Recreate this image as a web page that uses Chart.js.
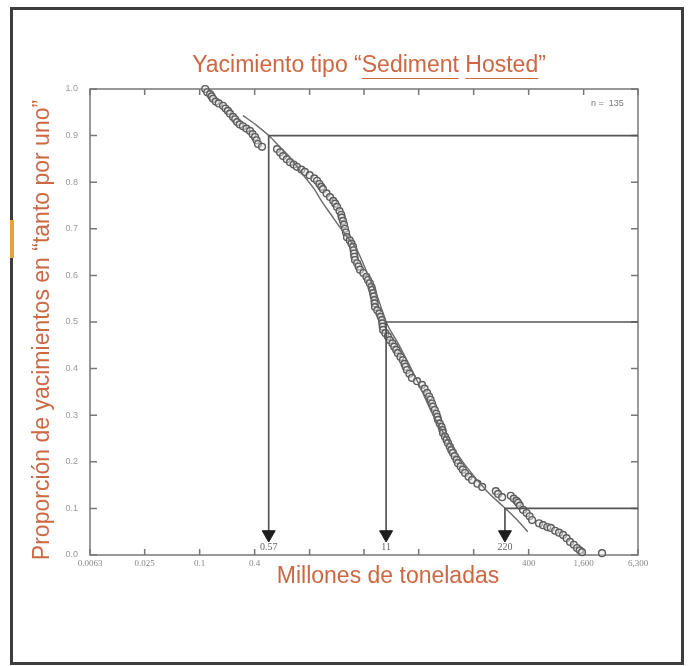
<!DOCTYPE html>
<html>
<head>
<meta charset="utf-8">
<script src="https://cdn.jsdelivr.net/npm/chart.js@4/dist/chart.umd.min.js"></script>
<style>
  html, body { margin: 0; padding: 0; background: #fff; }
  #wrap { position: relative; width: 688px; height: 666px; }
  #c { position: absolute; left: 0; top: 0; }
  #frame { position: absolute; left: 10px; top: 7px; width: 668px; height: 652px;
           border: 3px solid #3d3d3d; pointer-events: none; }
  #tab { position: absolute; left: 10px; top: 220px; width: 4px; height: 38px; background: #e8a23c; }
</style>
</head>
<body>
<div id="wrap">
  <canvas id="c" width="688" height="666"></canvas>
  <div id="frame"></div>
  <div id="tab"></div>
</div>
<script>
// axis ticks (log scale, factor 4)
const xTickValues = [0.0063, 0.025, 0.1, 0.4, 1.6, 6.3, 25, 100, 400, 1600, 6300];
const xTickLabels = ['0.0063', '0.025', '0.1', '0.4', '', '', '', '', '400', '1,600', '6,300'];

// deposits: tonnage (Mt) vs proportion of deposits with that tonnage or more
const depositTonnage = [
  0.115, 0.121, 0.130, 0.135, 0.140, 0.150, 0.162, 0.180, 0.192, 0.204,
  0.215, 0.232, 0.245, 0.257, 0.275, 0.298, 0.325, 0.356, 0.380, 0.404,
  0.420, 0.435, 0.482, 0.703, 0.760, 0.818, 0.900, 0.976, 1.07, 1.16,
  1.30, 1.42, 1.60, 1.80, 1.93, 2.05, 2.15, 2.24, 2.45, 2.67,
  2.90, 3.05, 3.19, 3.40, 3.55, 3.60, 3.71, 3.80, 3.90, 4.00,
  4.10, 4.40, 4.60, 4.78, 4.85, 4.90, 4.95, 5.02, 5.30, 5.50,
  5.70, 6.20, 6.70, 6.97, 7.30, 7.60, 7.75, 7.91, 8.05, 8.20,
  8.25, 8.32, 8.80, 9.30, 9.60, 9.93, 10.0, 10.1, 10.2, 10.8,
  11.5, 12.1, 12.9, 13.5, 14.2, 14.8, 15.8, 16.8, 17.5, 18.0,
  18.6, 19.8, 21.1, 24.0, 27.2, 29.0, 30.9, 32.5, 33.8, 35.0,
  35.9, 37.5, 39.0, 40.0, 40.7, 42.5, 44.5, 45.5, 46.2, 48.5,
  50.5, 52.4, 55.0, 57.0, 59.4, 62.0, 65.0, 67.4, 72.0, 76.0,
  80.5, 88.0, 96.0, 110, 124, 175, 185, 205, 255, 275,
  295, 306, 320, 347, 380, 410, 436, 520, 575, 640,
  700, 780, 860, 953, 1040, 1136, 1250, 1355, 1450, 1536,
  2543
];
const depositProportion = [
  1.000, 0.993, 0.989, 0.984, 0.979, 0.973, 0.969, 0.964, 0.958, 0.953,
  0.947, 0.940, 0.935, 0.929, 0.924, 0.920, 0.915, 0.910, 0.903, 0.897,
  0.890, 0.882, 0.876, 0.871, 0.864, 0.856, 0.849, 0.843, 0.838, 0.833,
  0.827, 0.822, 0.815, 0.808, 0.803, 0.796, 0.790, 0.785, 0.776, 0.768,
  0.760, 0.754, 0.747, 0.738, 0.730, 0.724, 0.717, 0.709, 0.700, 0.692,
  0.682, 0.675, 0.668, 0.661, 0.654, 0.647, 0.640, 0.633, 0.626, 0.619,
  0.612, 0.605, 0.597, 0.590, 0.583, 0.575, 0.569, 0.562, 0.555, 0.547,
  0.540, 0.532, 0.525, 0.518, 0.511, 0.504, 0.497, 0.490, 0.483, 0.476,
  0.469, 0.461, 0.454, 0.447, 0.440, 0.433, 0.425, 0.418, 0.410, 0.404,
  0.397, 0.389, 0.380, 0.373, 0.365, 0.357, 0.348, 0.340, 0.333, 0.325,
  0.318, 0.311, 0.303, 0.296, 0.290, 0.282, 0.275, 0.268, 0.262, 0.254,
  0.247, 0.240, 0.232, 0.225, 0.219, 0.212, 0.204, 0.197, 0.190, 0.183,
  0.176, 0.168, 0.161, 0.153, 0.146, 0.137, 0.131, 0.124, 0.127, 0.121,
  0.116, 0.112, 0.106, 0.097, 0.090, 0.083, 0.075, 0.068, 0.064, 0.060,
  0.058, 0.052, 0.048, 0.043, 0.036, 0.028, 0.022, 0.015, 0.010, 0.006,
  0.004
];
const sampleSize = 135;

// fitted curve
const fitTonnage    = [0.298, 0.42, 0.57, 0.72, 0.976, 1.2, 1.37, 1.8, 2.2, 2.8, 3.3, 4.3, 5.2, 7.0, 9.0, 11, 15, 23.8, 35, 55, 80, 140, 211, 300, 391];
const fitProportion = [0.943, 0.922, 0.90, 0.88, 0.853, 0.83, 0.815, 0.785, 0.757, 0.728, 0.708, 0.678, 0.657, 0.60, 0.55, 0.50, 0.453, 0.376, 0.305, 0.24, 0.194, 0.137, 0.104, 0.075, 0.05];

// percentile markers (90 %, 50 %, 10 %)
const markerTonnage = [0.57, 11, 220];
const markerLevel   = [0.9, 0.5, 0.1];
const markerText    = ['0.57', '11', '220'];

const arrowBase = 0.044;
const orange = '#cd6843';
const titleFont = '23px "Liberation Sans", Arial, sans-serif';

const markerDatasets = markerTonnage.map((m, i) => ({
  type: 'line',
  data: [{ x: 6300, y: markerLevel[i] }, { x: m, y: markerLevel[i] }, { x: m, y: arrowBase }],
  borderColor: '#555',
  borderWidth: 1.7,
  pointRadius: 0,
  tension: 0,
  clip: false
}));

const decor = {
  id: 'decor',
  beforeDatasetsDraw(chart) {
    const { ctx, chartArea: a, scales: { x, y } } = chart;
    ctx.save();
    ctx.strokeStyle = '#777';
    ctx.lineWidth = 1.5;
    ctx.strokeRect(a.left, a.top, a.right - a.left, a.bottom - a.top);
    ctx.beginPath();
    x.ticks.forEach(t => {
      const px = x.getPixelForValue(t.value);
      ctx.moveTo(px, a.top); ctx.lineTo(px, a.top + 6);
      ctx.moveTo(px, a.bottom); ctx.lineTo(px, a.bottom - 6);
    });
    y.ticks.forEach(t => {
      const py = y.getPixelForValue(t.value);
      ctx.moveTo(a.left, py); ctx.lineTo(a.left + 7, py);
      ctx.moveTo(a.right, py); ctx.lineTo(a.right - 7, py);
    });
    ctx.stroke();
    ctx.restore();
  },
  afterDraw(chart) {
    const { ctx, chartArea: a, scales: { x } } = chart;
    ctx.save();
    ctx.fillStyle = orange;
    ctx.textBaseline = 'middle';
    ctx.textAlign = 'left';

    // main title with underlined words
    const title = 'Yacimiento tipo \u201cSediment Hosted\u201d';
    ctx.font = titleFont;
    const tw = ctx.measureText(title).width;
    const tx = 369 - tw / 2;
    ctx.fillText(title, tx, 66);
    ctx.strokeStyle = orange;
    ctx.lineWidth = 1;
    ['Sediment', 'Hosted'].forEach(word => {
      const idx = title.indexOf(word);
      const x0 = tx + ctx.measureText(title.slice(0, idx)).width;
      const x1 = x0 + ctx.measureText(word).width;
      ctx.beginPath(); ctx.moveTo(x0, 78.5); ctx.lineTo(x1, 78.5); ctx.stroke();
    });

    // axis titles
    ctx.textAlign = 'center';
    ctx.fillText('Millones de toneladas', 388, 577);
    ctx.save();
    ctx.translate(43, 330);
    ctx.rotate(-Math.PI / 2);
    ctx.fillText('Proporci\u00f3n de yacimientos en \u201ctanto por uno\u201d', 0, 0);
    ctx.restore();

    // sample size
    ctx.fillStyle = '#777';
    ctx.font = '9px "Liberation Sans", Arial, sans-serif';
    ctx.textAlign = 'left';
    ctx.fillText('n =  ' + sampleSize, 591, 104);

    // marker values
    ctx.fillStyle = '#666';
    ctx.font = '10px "Liberation Serif", "Times New Roman", serif';
    ctx.textAlign = 'center';
    markerTonnage.forEach((m, i) => {
      ctx.fillText(markerText[i], x.getPixelForValue(m), a.bottom - 8);
    });
    ctx.restore();
  }
};

new Chart(document.getElementById('c'), {
  type: 'scatter',
  data: {
    datasets: [
      {
        type: 'scatter',
        data: markerTonnage.map(m => ({ x: m, y: arrowBase })),
        pointStyle: 'triangle',
        rotation: 180,
        pointRadius: 7.5,
        backgroundColor: '#1e1e1e',
        borderColor: '#1e1e1e',
        borderWidth: 1,
        clip: false
      },
      ...markerDatasets,
      {
        type: 'line',
        data: fitTonnage.map((v, i) => ({ x: v, y: fitProportion[i] })),
        borderColor: '#6a6a6a',
        borderWidth: 1.4,
        pointRadius: 0,
        cubicInterpolationMode: 'monotone',
        clip: false
      },
      {
        type: 'scatter',
        data: depositTonnage.map((v, i) => ({ x: v, y: depositProportion[i] })),
        pointStyle: 'circle',
        pointRadius: 3.4,
        borderWidth: 1.4,
        borderColor: '#5c5c5c',
        backgroundColor: 'rgba(235,235,235,0.5)',
        clip: false
      }
    ]
  },
  options: {
    responsive: false,
    animation: false,
    events: [],
    layout: { padding: { top: 89, right: 50, left: 0, bottom: 0 } },
    plugins: { legend: { display: false }, tooltip: { enabled: false }, title: { display: false } },
    scales: {
      x: {
        type: 'logarithmic',
        min: 0.0063,
        max: 6300,
        afterBuildTicks: s => { s.ticks = xTickValues.map(v => ({ value: v })); },
        afterFit: s => { s.height = 111; },
        grid: { display: false, drawTicks: false },
        border: { display: false },
        ticks: {
          autoSkip: false,
          maxRotation: 0,
          padding: 3,
          color: '#888',
          font: { family: '"Liberation Serif", "Times New Roman", serif', size: 9 },
          callback: (v, i) => xTickLabels[i]
        }
      },
      y: {
        min: 0,
        max: 1,
        afterFit: s => { s.width = 90; },
        grid: { display: false, drawTicks: false },
        border: { display: false },
        ticks: {
          stepSize: 0.1,
          padding: 12,
          color: '#999',
          font: { family: '"Liberation Sans", Arial, sans-serif', size: 9 },
          callback: v => v.toFixed(1)
        }
      }
    }
  },
  plugins: [decor]
});
</script>
</body>
</html>
